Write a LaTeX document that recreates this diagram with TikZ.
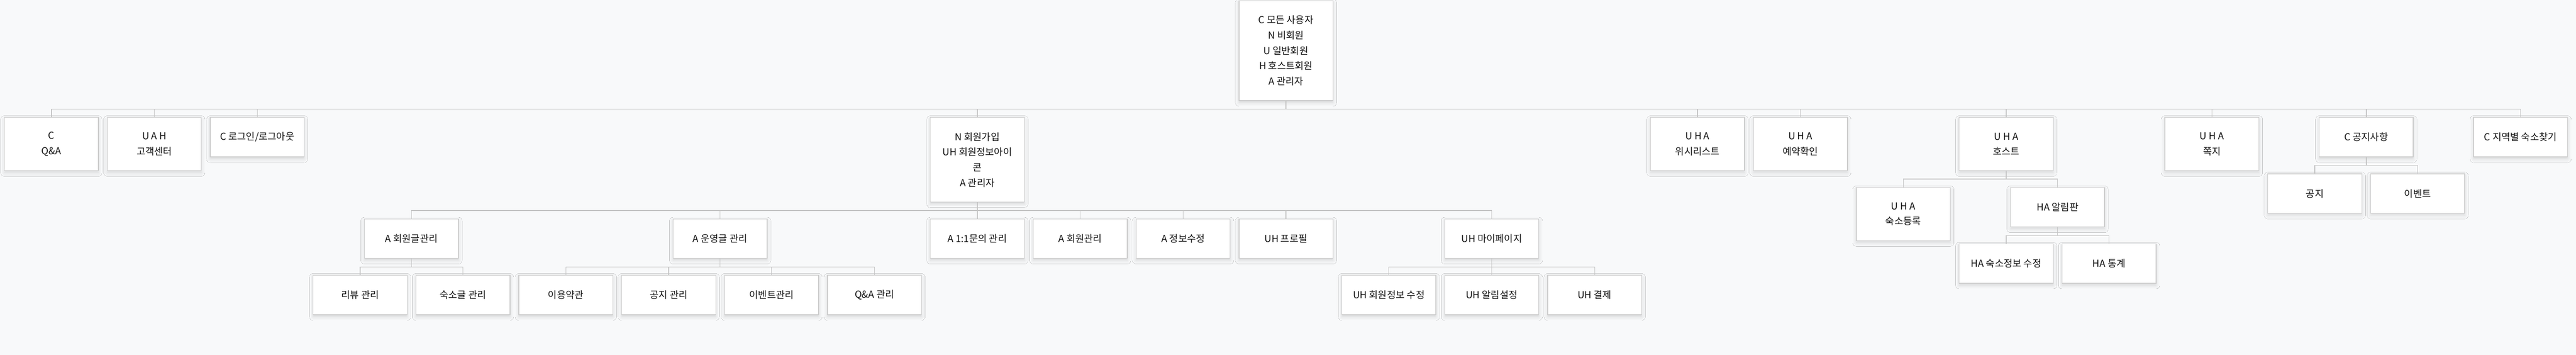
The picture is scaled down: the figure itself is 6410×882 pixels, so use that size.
\documentclass[tikz,border=0pt]{standalone}
\usepackage{fontspec}
\setmainfont{Noto Sans CJK KR}
\usetikzlibrary{shadows.blur}
\definecolor{bgc}{HTML}{F8F9FA}
\definecolor{bdc}{HTML}{CCCCCC}
\definecolor{lnc}{HTML}{C4C4C4}
\definecolor{txc}{HTML}{111111}
\begin{document}
\begin{tikzpicture}[x=1pt,y=-1pt,
  box/.style={draw=bdc, line width=1.7pt, fill=white, minimum width=234pt,
    align=center, font=\fontsize{24}{38}\selectfont, text=txc, anchor=north, inner sep=0pt,
    blur shadow={shadow xshift=0pt, shadow yshift=-5pt, shadow blur radius=9pt, shadow opacity=14}},
  hone/.style={minimum height=98pt},
  htwo/.style={minimum height=132pt},
  hfour/.style={minimum height=210pt},
  conn/.style={draw=lnc, line width=1.7pt}]
\fill[bgc] (0,0) rectangle (6410,882);
\useasboundingbox (0,0) rectangle (6410,882);

% root
\node[box,minimum height=248pt] (root) at (3200,1) {C 모든 사용자\\N 비회원\\U 일반회원\\H 호스트회원\\A 관리자};

% level 1
\node[box,htwo] (qa) at (128,291) {C\\Q\&A};
\node[box,htwo] (cs) at (384,291) {U A H\\고객센터};
\node[box,hone] (login) at (640,291) {C 로그인/로그아웃};
\node[box,hfour] (join) at (2432,291) {N 회원가입\\UH 회원정보아이\\콘\\A 관리자};
\node[box,htwo] (wish) at (4224,291) {U H A\\위시리스트};
\node[box,htwo] (resv) at (4480,291) {U H A\\예약확인};
\node[box,htwo] (host) at (4992,291) {U H A\\호스트};
\node[box,htwo] (msg) at (5504,291) {U H A\\쪽지};
\node[box,hone] (notice) at (5888,291) {C 공지사항};
\node[box,hone] (region) at (6272,291) {C 지역별 숙소찾기};

% level 2 under join
\node[box,hone] (mpost) at (1024,543) {A 회원글관리};
\node[box,hone] (opost) at (1792,543) {A 운영글 관리};
\node[box,hone] (qnaone) at (2432,543) {A 1:1문의 관리};
\node[box,hone] (mmng) at (2688,543) {A 회원관리};
\node[box,hone] (info) at (2944,543) {A 정보수정};
\node[box,hone] (prof) at (3200,543) {UH 프로필};
\node[box,hone] (mypage) at (3712,543) {UH 마이페이지};

% level 3
\node[box,hone] (review) at (896,683) {리뷰 관리};
\node[box,hone] (stay) at (1152,683) {숙소글 관리};
\node[box,hone] (terms) at (1408,683) {이용약관};
\node[box,hone] (nmng) at (1664,683) {공지 관리};
\node[box,hone] (emng) at (1920,683) {이벤트관리};
\node[box,hone] (qmng) at (2176,683) {Q\&A 관리};
\node[box,hone] (minfo) at (3456,683) {UH 회원정보 수정};
\node[box,hone] (alarm) at (3712,683) {UH 알림설정};
\node[box,hone] (pay) at (3968,683) {UH 결제};

% host children
\node[box,htwo] (reg) at (4736,465) {U H A\\숙소등록};
\node[box,hone] (board) at (5120,465) {HA 알림판};
\node[box,hone] (sedit) at (4992,605) {HA 숙소정보 수정};
\node[box,hone] (stat) at (5248,605) {HA 통계};

% notice children
\node[box,hone] (ntc) at (5760,431) {공지};
\node[box,hone] (evt) at (6016,431) {이벤트};

% connectors
\foreach \p/\c in {root/qa,root/cs,root/login,root/join,root/wish,root/resv,root/host,root/msg,root/notice,root/region,
  join/mpost,join/opost,join/qnaone,join/mmng,join/info,join/prof,join/mypage,
  mpost/review,mpost/stay,opost/terms,opost/nmng,opost/emng,opost/qmng,
  mypage/minfo,mypage/alarm,mypage/pay,
  host/reg,host/board,board/sedit,board/stat,notice/ntc,notice/evt}
  \draw[conn] (\p.south) |- ([yshift=20pt]\c.north) -- (\c.north);
\end{tikzpicture}
\end{document}
